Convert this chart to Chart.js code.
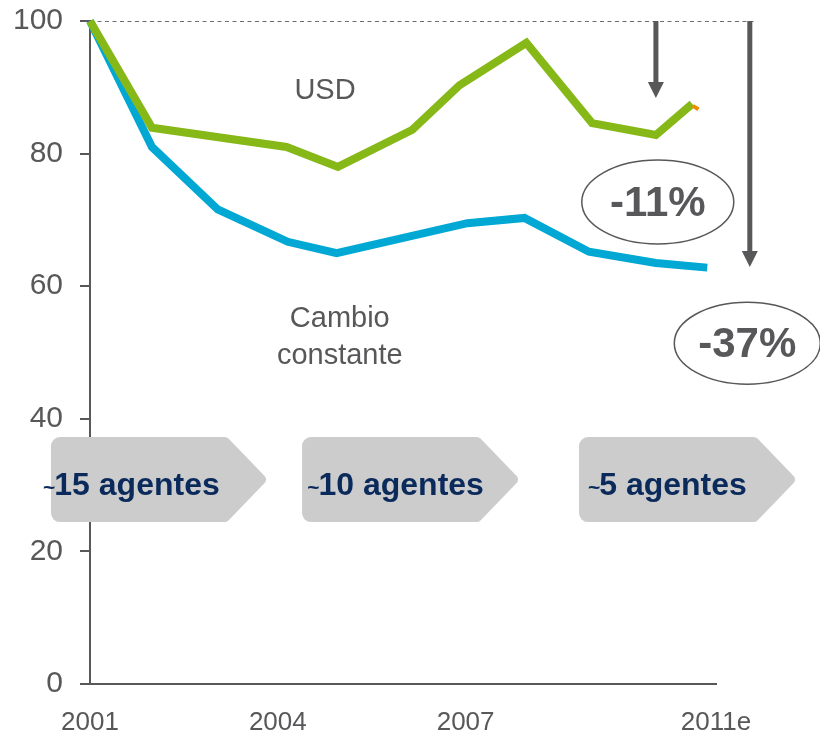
<!DOCTYPE html>
<html>
<head>
<meta charset="utf-8">
<script src="https://cdn.jsdelivr.net/npm/chart.js@4/dist/chart.umd.min.js"></script>
<style>
  html, body { margin: 0; padding: 0; background: #ffffff; }
  #wrap { width: 820px; height: 736px; }
</style>
</head>
<body>
<div id="wrap"><canvas id="c" width="820" height="736"></canvas></div>
<script>
// ---- data ----
const usdYears   = [2001, 2001.99, 2004.14, 2004.96, 2006.15, 2006.9, 2007.97, 2009.02, 2010.04, 2010.62];
const usdValues  = [100, 83.9, 81.0, 78.0, 83.6, 90.3, 96.7, 84.6, 82.8, 87.5];
const cteYears   = [2001, 2001.99, 2003.04, 2004.16, 2004.94, 2007.03, 2007.94, 2008.97, 2010.04, 2010.86];
const cteValues  = [100, 81.0, 71.6, 66.7, 65.0, 69.5, 70.3, 65.2, 63.5, 62.8];
const tipYears   = [2010.63, 2010.72];
const tipValues  = [87.2, 86.7];
const xTickValues = [2001, 2004, 2007, 2011];
const xTickLabels = ['2001', '2004', '2007', '2011e'];
const seriesLabels = ['USD', 'Cambio constante'];
const agentLabels = ['15 agentes', '10 agentes', '5 agentes'];
const changeLabels = ['-11%', '-37%'];

const GREY = '#58585a';
const FONT = '"Liberation Sans", Arial, Helvetica, sans-serif';

function pts(xs, ys) { return xs.map((x, i) => ({ x: x, y: ys[i] })); }

// annotation anchors in data units
const boxes = [
  { x0: 2000.377, x1: 2003.843, tx: 2000.25 },
  { x0: 2004.387, x1: 2007.869, tx: 2004.47 },
  { x0: 2008.812, x1: 2012.294, tx: 2008.955 }
];
const boxTop = 37.25, boxBottom = 24.43, boxTextY = 28.5;

const annot = {
  id: 'annot',
  beforeDatasetsDraw(chart) {
    const ctx = chart.ctx, xs = chart.scales.x, ys = chart.scales.y;
    ctx.save();
    ctx.strokeStyle = '#6e6e6e';
    ctx.lineWidth = 1;
    ctx.setLineDash([4, 3.5]);
    ctx.beginPath();
    const y100 = Math.round(ys.getPixelForValue(100)) + 0.5;
    ctx.moveTo(xs.getPixelForValue(2001), y100);
    ctx.lineTo(xs.getPixelForValue(2011.6), y100);
    ctx.stroke();
    ctx.restore();
  },
  afterDraw(chart) {
    const ctx = chart.ctx, xs = chart.scales.x, ys = chart.scales.y;
    const X = v => xs.getPixelForValue(v), Y = v => ys.getPixelForValue(v);
    ctx.save();

    // series labels
    ctx.fillStyle = GREY;
    ctx.font = '29px ' + FONT;
    ctx.textAlign = 'center';
    ctx.textBaseline = 'middle';
    ctx.fillText(seriesLabels[0], X(2004.754), Y(89.4));
    const parts = seriesLabels[1].split(' ');
    ctx.fillText(parts[0], X(2004.99), Y(55.0));
    ctx.fillText(parts[1], X(2004.99), Y(49.4));

    // arrows
    function arrow(xv, yTipV) {
      const x = X(xv), y0 = Y(100), yt = Y(yTipV);
      ctx.fillStyle = GREY;
      ctx.fillRect(x - 2.5, y0, 5, yt - y0 - 14);
      ctx.beginPath();
      ctx.moveTo(x - 8, yt - 16);
      ctx.lineTo(x + 8, yt - 16);
      ctx.lineTo(x, yt);
      ctx.closePath();
      ctx.fill();
    }
    arrow(2010.04, 88.4);
    arrow(2011.54, 62.9);

    // ellipses with change labels
    function bubble(xv, yv, rx, ry, txt) {
      const cx = X(xv), cy = Y(yv);
      ctx.beginPath();
      ctx.ellipse(cx, cy, rx, ry, 0, 0, Math.PI * 2);
      ctx.fillStyle = '#ffffff';
      ctx.fill();
      ctx.lineWidth = 1.5;
      ctx.strokeStyle = GREY;
      ctx.stroke();
      ctx.fillStyle = GREY;
      ctx.font = 'bold 42px ' + FONT;
      ctx.textAlign = 'center';
      ctx.textBaseline = 'middle';
      ctx.fillText(txt, cx, cy + 2);
    }
    bubble(2010.07, 72.7, 76, 42, changeLabels[0]);
    bubble(2011.50, 51.4, 73, 41, changeLabels[1]);

    // chevron boxes
    const yT = Y(boxTop), yB = Y(boxBottom), yM = (yT + yB) / 2;
    boxes.forEach((b, i) => {
      const l = X(b.x0), r = X(b.x1), k = r - 41, rad = 9;
      ctx.beginPath();
      ctx.moveTo(l + rad, yT);
      ctx.arcTo(k, yT, r, yM, 6);
      ctx.arcTo(r, yM, k, yB, 5);
      ctx.arcTo(k, yB, l, yB, 6);
      ctx.arcTo(l, yB, l, yT, rad);
      ctx.arcTo(l, yT, k, yT, rad);
      ctx.closePath();
      ctx.fillStyle = '#cccccc';
      ctx.fill();

      ctx.fillStyle = '#0b2a5c';
      ctx.textAlign = 'left';
      ctx.textBaseline = 'alphabetic';
      const tx = X(b.tx), ty = Y(boxTextY);
      ctx.font = 'bold 21px ' + FONT;
      ctx.fillText('~', tx, ty - 1);
      const tw = ctx.measureText('~').width;
      ctx.font = 'bold 32px ' + FONT;
      ctx.fillText(agentLabels[i], tx + tw - 1, ty);
    });

    ctx.restore();
  }
};

new Chart(document.getElementById('c'), {
  type: 'line',
  data: {
    datasets: [
      { label: 'tip', data: pts(tipYears, tipValues), borderColor: '#f08a00',
        borderWidth: 4, pointRadius: 0, tension: 0, fill: false, clip: false },
      { label: seriesLabels[0], data: pts(usdYears, usdValues), borderColor: '#86b817',
        borderWidth: 8, pointRadius: 0, tension: 0, fill: false, clip: false },
      { label: seriesLabels[1], data: pts(cteYears, cteValues), borderColor: '#00a8d3',
        borderWidth: 8, pointRadius: 0, tension: 0, fill: false, clip: false }
    ]
  },
  options: {
    responsive: false,
    animation: false,
    devicePixelRatio: 1,
    layout: { padding: { top: 21, right: 104, left: 0, bottom: 0 } },
    plugins: { legend: { display: false }, tooltip: { enabled: false } },
    scales: {
      x: {
        type: 'linear', min: 2001, max: 2011,
        afterBuildTicks: s => { s.ticks = xTickValues.map(v => ({ value: v })); },
        afterFit: s => { s.height = 52; s.paddingLeft = 0; s.paddingRight = 0; },
        ticks: {
          autoSkip: false, maxRotation: 0, padding: 23,
          color: GREY, font: { family: FONT, size: 26 },
          callback: v => xTickLabels[xTickValues.indexOf(v)]
        },
        grid: { display: true, drawOnChartArea: false, drawTicks: false, color: 'rgba(0,0,0,0)' },
        border: { display: true, color: GREY, width: 2 }
      },
      y: {
        min: 0, max: 100,
        afterFit: s => { s.width = 90; s.paddingTop = 0; s.paddingBottom = 0; },
        ticks: { stepSize: 20, padding: 17, color: GREY, font: { family: FONT, size: 30 } },
        grid: { drawOnChartArea: false, drawTicks: true, tickLength: 10, tickColor: GREY, tickWidth: 2, color: GREY, lineWidth: 2 },
        border: { display: true, color: GREY, width: 2 }
      }
    }
  },
  plugins: [annot]
});
</script>
</body>
</html>
